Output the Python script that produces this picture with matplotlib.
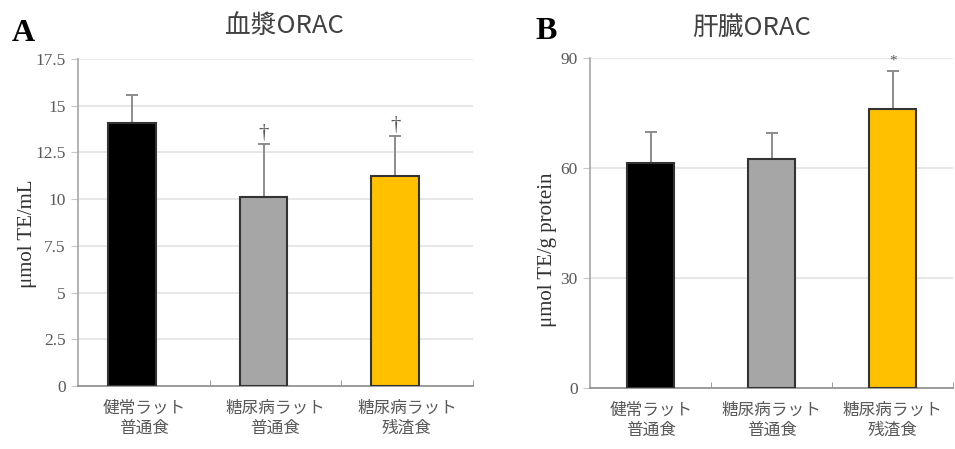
import numpy as np
import matplotlib
matplotlib.use('Agg')
import matplotlib.pyplot as plt

plt.rcParams['font.family'] = ['Noto Sans CJK JP', 'DejaVu Sans']

# data
groups = ['健常ラット\n普通食', '糖尿病ラット\n普通食', '糖尿病ラット\n残渣食']
colors = ['#000000', '#a6a6a6', '#ffc000']

plasma = [14.1, 10.1, 11.25]
plasma_err = [1.45, 2.85, 2.15]
plasma_marks = ['', '†', '†']

liver = [61.3, 62.5, 76.0]
liver_err = [8.5, 6.9, 10.4]
liver_marks = ['', '', '*']

fig = plt.figure(figsize=(9.55, 4.49), dpi=100)
axA = fig.add_axes([0.0817, 0.1403, 0.4133, 0.7283])
axB = fig.add_axes([0.618, 0.136, 0.380, 0.735])

gray = '#8c8c8c'
serif = 'Liberation Serif'


def draw(ax, vals, errs, marks, ymax, step, ylabel, fmt, mark_off, mark_size, shift, width,
         lab_x, lab_y):
    x = np.arange(len(vals))
    xb = x + shift
    ax.bar(xb, vals, width=width, color=colors, edgecolor='#333333', linewidth=1.5, zorder=3)
    ax.errorbar(xb, vals, yerr=[np.zeros(len(errs)), errs], fmt='none', ecolor=gray,
                elinewidth=1.4, capsize=4.5, capthick=1.4, zorder=2)
    for xi, v, e, m in zip(xb, vals, errs, marks):
        if m:
            ax.text(xi, v + e + mark_off, m, ha='center', va='bottom', fontsize=mark_size,
                    color='#595959', family=serif)
    ax.set_xlim(-0.5, 2.5)
    ax.set_ylim(0, ymax)
    ticks = np.arange(0, ymax + step / 2, step)
    ax.set_yticks(ticks)
    ax.set_yticklabels([fmt(t) for t in ticks], family=serif, fontsize=12.5, color='#595959')
    ax.yaxis.grid(True, color='#e3e3e3', linewidth=1.2, zorder=0)
    ax.set_axisbelow(True)
    ax.set_xticks(x)
    ax.set_xticklabels(groups, fontsize=12, color='#595959', linespacing=1.25)
    ax.tick_params(axis='x', length=0, pad=10)
    ax.set_xticks([0.5, 1.5, 2.5], minor=True)
    ax.tick_params(axis='x', which='minor', direction='in', length=4, color=gray)
    ax.tick_params(axis='y', direction='out', length=5, color='#c8c8c8', pad=4)
    for s in ['top', 'right']:
        ax.spines[s].set_visible(False)
    ax.spines['left'].set_color('#a6a6a6')
    ax.spines['bottom'].set_color(gray)
    ax.spines['left'].set_linewidth(1.2)
    ax.spines['bottom'].set_linewidth(1.2)
    ax.set_ylabel(ylabel, family=serif, fontsize=15, color='#333333', va='center')
    ax.yaxis.set_label_coords(lab_x, lab_y)


def fmtA(t):
    return ('%.1f' % t).rstrip('0').rstrip('.')


draw(axA, plasma, plasma_err, plasma_marks, 17.5, 2.5, 'μmol TE/mL', fmtA, 0.05, 15, -0.09, 0.36,
     -0.127, 0.465)
draw(axB, liver, liver_err, liver_marks, 90, 30, 'μmol TE/g protein', lambda t: '%d' % t,
     1.0, 11, 0.0, 0.39, -0.118, 0.42)

fig.text(0.298, 0.942, '血漿ORAC', fontsize=18.5, color='#404040', ha='center', va='center')
fig.text(0.787, 0.938, '肝臓ORAC', fontsize=18.5, color='#404040', ha='center', va='center')
fig.text(0.012, 0.926, 'A', family=serif, fontsize=23, fontweight='bold', ha='left', va='center')
fig.text(0.561, 0.930, 'B', family=serif, fontsize=23, fontweight='bold', ha='left', va='center')

fig.savefig('out.png', dpi=100)
